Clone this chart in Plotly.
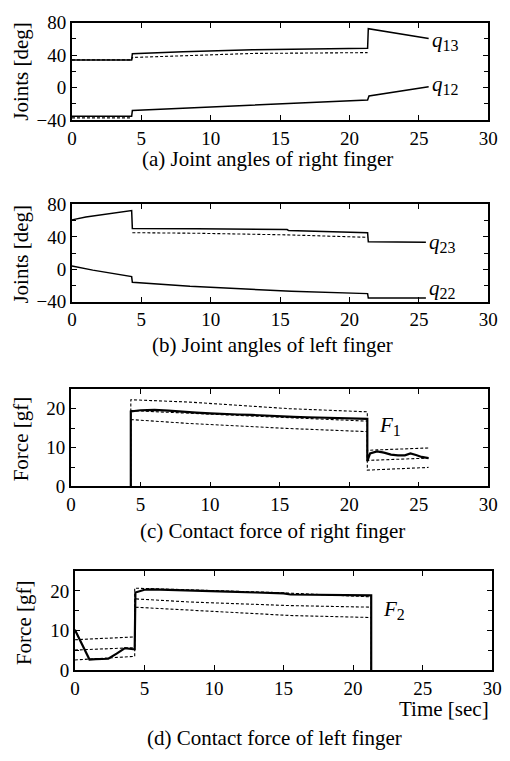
import plotly.graph_objects as go

# ---------------- data ----------------
# (a) right finger joint angles
t_q13 = [0, 4.3, 4.35, 8, 13, 17, 21.3, 21.35, 25.7]
q13 = [34, 34, 41.5, 44, 46.5, 47.8, 48.5, 72.5, 60.5]
t_q13_ref = [0, 4.3, 4.35, 8, 13, 21.3]
q13_ref = [34, 34, 37, 39.5, 42, 43]
t_q12 = [0, 4.3, 4.35, 9, 13, 17, 21.3, 21.4, 25.7]
q12 = [-35.5, -35.5, -28.5, -25, -22.5, -19.5, -15.5, -10.5, 1]
t_q12_ref = [0, 4.3]
q12_ref = [-37.5, -37.5]

# (b) left finger joint angles
t_q23 = [0, 1, 4.3, 4.35, 9, 15.5, 15.6, 21.3, 21.35, 25.5]
q23 = [61, 64.5, 72.5, 50.5, 50, 49, 48, 45, 34, 33.5]
t_q23_ref = [4.35, 9, 15.5, 21.3]
q23_ref = [45.2, 44.5, 42.5, 39.5]
t_q22 = [0, 1.5, 4.3, 4.35, 8.5, 13, 15.8, 21.3, 21.35, 25.5]
q22 = [4, -1, -9, -16, -21, -24.5, -27, -30, -35.5, -35.5]

# (c) contact force of right finger
t_F1 = [4.3, 4.3, 5, 6, 7, 8, 9, 10, 11, 12, 13, 14, 15, 16, 17, 18, 19, 20,
        21.3, 21.3, 21.5, 22, 22.5, 23, 23.5, 24, 24.4, 24.8, 25.2, 25.7]
F1 = [0, 19.3, 19.6, 19.7, 19.5, 19.2, 19.0, 18.8, 18.6, 18.5, 18.4, 18.2, 18.0,
      17.9, 17.8, 17.7, 17.6, 17.5, 17.4, 6.5, 8.5, 9.0, 8.7, 8.2, 8.0, 8.0,
      8.5, 8.1, 7.6, 7.3]
t_F1_up = [4.3, 4.3, 8.5, 15.7, 21.3, 21.3, 22, 25.7]
F1_up = [0, 22.3, 21.7, 20, 19.2, 9.3, 9.4, 9.9]
t_F1_mid = [4.3, 21.3, 21.3, 25.7]
F1_mid = [19.5, 16.8, 6.7, 7.3]
t_F1_lo = [4.3, 8.5, 15.7, 21.3, 21.3, 25.7]
F1_lo = [17.2, 16.2, 14.9, 14.1, 4.2, 4.9]

# (d) contact force of left finger
t_F2 = [0, 0.3, 1.05, 1.5, 2.4, 3.0, 3.6, 4.2, 4.3, 4.35, 5, 5.5, 7, 9, 11,
        13, 15, 15.5, 17, 19, 21.3, 21.3]
F2 = [10.2, 8, 2.7, 2.8, 2.9, 4.2, 5.6, 5.3, 5.3, 19.6, 20.3, 20.4, 20.2, 20.0,
      19.8, 19.6, 19.4, 19.1, 19.0, 18.9, 18.9, 0]
t_F2_up = [0, 4.3, 4.3, 8.3, 14.4, 21.3, 21.3]
F2_up = [7.7, 8.4, 20.7, 20.2, 19.6, 18.5, 0]
t_F2_mid = [0, 4.3, 4.3, 8.3, 15.5, 21.3]
F2_mid = [5.1, 5.7, 18.0, 17.2, 16.3, 15.9]
t_F2_lo = [0, 4.3, 4.3, 8.3, 15.5, 21.3]
F2_lo = [2.6, 3.5, 15.9, 15.2, 13.8, 13.3]

x_ticks = [0, 5, 10, 15, 20, 25, 30]
joint_ticks = [-40, 0, 40, 80]
force_ticks = [0, 10, 20]

captions = ["(a) Joint angles of right finger", "(b) Joint angles of left finger",
            "(c) Contact force of right finger", "(d) Contact force of left finger"]

# ---------------- figure ----------------
W, H = 510, 761
FONT = "Liberation Serif"
fig = go.Figure()

def px_x(p):
    return p / W

def px_y(p):
    return 1 - p / H

# panel pixel boxes: (left, right, top, bottom)
boxes = [(69, 498, 13, 113), (69, 498, 200, 300), (68, 498, 390, 490), (72, 502, 577, 679)]

solid = dict(color="black", width=1.5)
dashed = dict(color="black", width=1.1, dash="3px,2px")

def add(x, y, i, line):
    sfx = "" if i == 0 else str(i + 1)
    fig.add_trace(go.Scatter(x=x, y=y, mode="lines", line=line,
                             xaxis="x" + sfx, yaxis="y" + sfx,
                             showlegend=False, hoverinfo="skip"))

add(t_q13_ref, q13_ref, 0, dashed)
add(t_q12_ref, q12_ref, 0, dashed)
add(t_q13, q13, 0, solid)
add(t_q12, q12, 0, solid)

add(t_q23_ref, q23_ref, 1, dashed)
add(t_q23, q23, 1, solid)
add(t_q22, q22, 1, solid)

add(t_F1_up, F1_up, 2, dashed)
add(t_F1_mid, F1_mid, 2, dashed)
add(t_F1_lo, F1_lo, 2, dashed)
add(t_F1, F1, 2, dict(color="black", width=2.2))

add(t_F2_up, F2_up, 3, dashed)
add(t_F2_mid, F2_mid, 3, dashed)
add(t_F2_lo, F2_lo, 3, dashed)
add(t_F2, F2, 3, dict(color="black", width=2.2))

tickfont = dict(family=FONT, size=19, color="black")
layout = dict(width=W, height=H, margin=dict(l=0, r=0, t=0, b=0),
              paper_bgcolor="white", plot_bgcolor="white", showlegend=False)

for i, (l, r, t, b) in enumerate(boxes):
    sfx = "" if i == 0 else str(i + 1)
    joint = i < 2
    layout["xaxis" + sfx] = dict(
        domain=[px_x(l), px_x(r)], anchor="y" + sfx, range=[0, 30],
        tickvals=x_ticks, ticks="inside", ticklen=5, tickwidth=1.2, tickcolor="black",
        showline=True, linecolor="black", linewidth=1.8, mirror="ticks",
        showgrid=False, zeroline=False, tickfont=tickfont)
    layout["yaxis" + sfx] = dict(
        domain=[px_y(b), px_y(t)], anchor="x" + sfx,
        range=[-40, 80] if joint else [0, 25],
        tickvals=joint_ticks if joint else force_ticks,
        ticks="inside", ticklen=5, tickwidth=1.2, tickcolor="black",
        minor=dict(dtick=20 if joint else 5, ticks="inside", ticklen=4, tickcolor="black", tickwidth=1),
        showline=True, linecolor="black", linewidth=1.8, mirror="ticks",
        showgrid=False, zeroline=False, tickfont=tickfont)

fig.update_layout(**layout)

annfont = dict(family=FONT, size=21, color="black")
# y-axis titles
ytitles = [("Joints [deg]", 17, 63), ("Joints [deg]", 17, 251), ("Force [gf]", 16, 441), ("Force [gf]", 19, 630)]
for txt, x, y in ytitles:
    fig.add_annotation(text=txt, x=px_x(x), y=px_y(y), xref="paper", yref="paper",
                       textangle=-90, showarrow=False, font=annfont,
                       xanchor="center", yanchor="middle")
# captions
cap_pos = [(270, 153), (276, 345), (276, 536), (278, 749)]
for txt, (x, y) in zip(captions, cap_pos):
    fig.add_annotation(text=txt, x=px_x(x), y=px_y(y), xref="paper", yref="paper",
                       showarrow=False, font=annfont, xanchor="center", yanchor="middle")
fig.add_annotation(text="Time [sec]", x=px_x(501), y=px_y(719), xref="paper", yref="paper",
                   showarrow=False, font=annfont, xanchor="right", yanchor="middle")

# curve labels
sub = lambda n: '<i>q</i><sub><span style="font-size:16px">%s</span></sub>' % n
labels = [(sub("13"), 25.8, 57, "x", "y"), (sub("12"), 25.8, 3, "x", "y"),
          (sub("23"), 25.6, 33, "x2", "y2"), (sub("22"), 25.6, -24, "x2", "y2"),
          ('<i>F</i><sub><span style="font-size:16px">1</span></sub>', 22.0, 15.6, "x3", "y3"),
          ('<i>F</i><sub><span style="font-size:16px">2</span></sub>', 22.0, 15.3, "x4", "y4")]
for txt, x, y, xr, yr in labels:
    fig.add_annotation(text=txt, x=x, y=y, xref=xr, yref=yr, showarrow=False,
                       font=annfont, xanchor="left", yanchor="middle")

fig.write_html("out.html")
